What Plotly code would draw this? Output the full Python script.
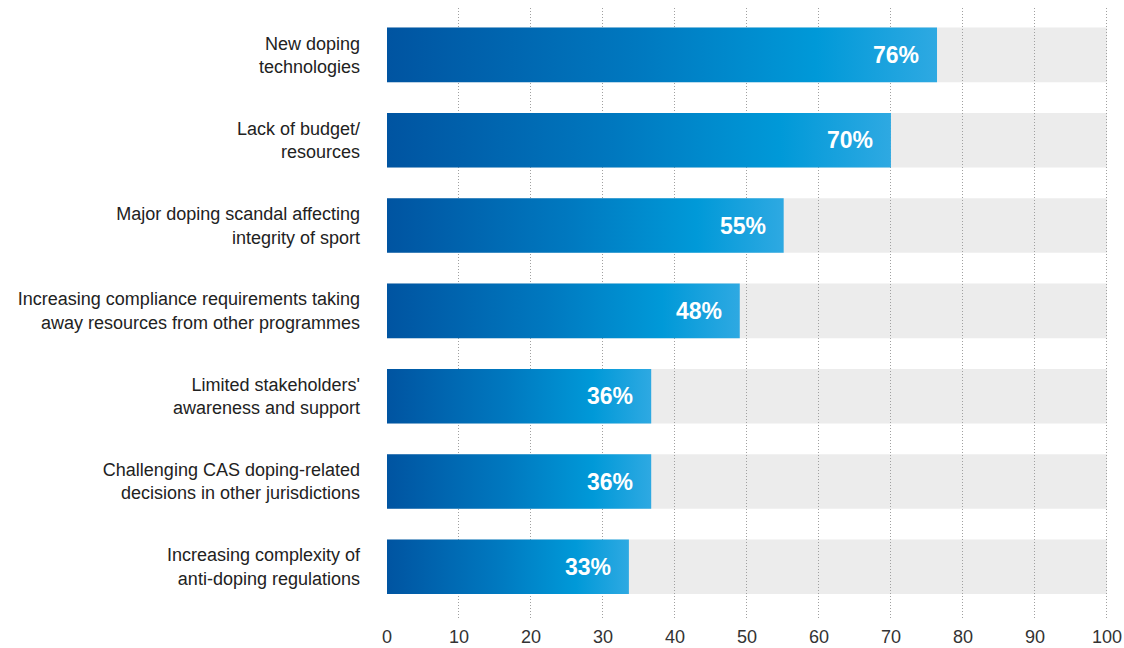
import plotly.graph_objects as go

categories = [
    "New doping<br>technologies",
    "Lack of budget/<br>resources",
    "Major doping scandal affecting<br>integrity of sport",
    "Increasing compliance requirements taking<br>away resources from other programmes",
    "Limited stakeholders'<br>awareness and support",
    "Challenging CAS doping-related<br>decisions in other jurisdictions",
    "Increasing complexity of<br>anti-doping regulations",
]
values = [76.4, 70.0, 55.1, 49.0, 36.7, 36.7, 33.6]
value_labels = ["76%", "70%", "55%", "48%", "36%", "36%", "33%"]
full_scale = 100
x_ticks = [0, 10, 20, 30, 40, 50, 60, 70, 80, 90, 100]

HALF = 0.32
FONT = "Liberation Sans, Arial, Helvetica, sans-serif"
gradient = [[0.0, "#0054a1"], [0.45, "#0078bf"], [0.78, "#0099d8"], [1.0, "#2ea9e2"]]

fig = go.Figure()
shapes = []
annotations = []
for i, (v, lab) in enumerate(zip(values, value_labels)):
    # grey background track (below gridlines)
    shapes.append(dict(type="rect", xref="x", yref="y", x0=0, x1=full_scale,
                       y0=i - HALF, y1=i + HALF, fillcolor="#ececec",
                       line=dict(width=0), layer="below"))
    fig.add_trace(go.Scatter(
        x=[0, v, v, 0, 0], y=[i - HALF, i - HALF, i + HALF, i + HALF, i - HALF],
        mode="lines", fill="toself",
        line=dict(width=0, color="rgba(0,0,0,0)"),
        fillgradient=dict(type="horizontal", colorscale=gradient),
        hoverinfo="skip", showlegend=False,
    ))
    annotations.append(dict(x=v, y=i, xref="x", yref="y", text=lab,
                            showarrow=False, xanchor="right", yanchor="middle",
                            xshift=-16,
                            font=dict(family=FONT, size=23, color="white", weight="bold")))

fig.update_layout(
    width=1124, height=648,
    margin=dict(l=387, r=16, t=8, b=30),
    plot_bgcolor="white", paper_bgcolor="white",
    shapes=shapes, annotations=annotations,
    showlegend=False,
    font=dict(family=FONT, color="#222222"),
)
fig.update_xaxes(
    range=[0, 100.15], tickvals=x_ticks, showgrid=True, gridcolor="#a0a0a0",
    griddash="1px,2px", gridwidth=1, zeroline=False, showline=False, ticks="",
    tickfont=dict(size=18, color="#333333", family=FONT), ticklabelstandoff=6,
    fixedrange=True, automargin=False,
)
fig.update_yaxes(
    range=[6.6, -0.55], tickvals=list(range(len(categories))), ticktext=categories,
    showgrid=False, zeroline=False, showline=False, ticks="",
    tickfont=dict(size=18, color="#222222", family=FONT), ticklabelstandoff=26,
    fixedrange=True, automargin=False,
)

fig.write_html("out.html", config={"displayModeBar": False},
               post_script="document.body.style.margin='0';")
